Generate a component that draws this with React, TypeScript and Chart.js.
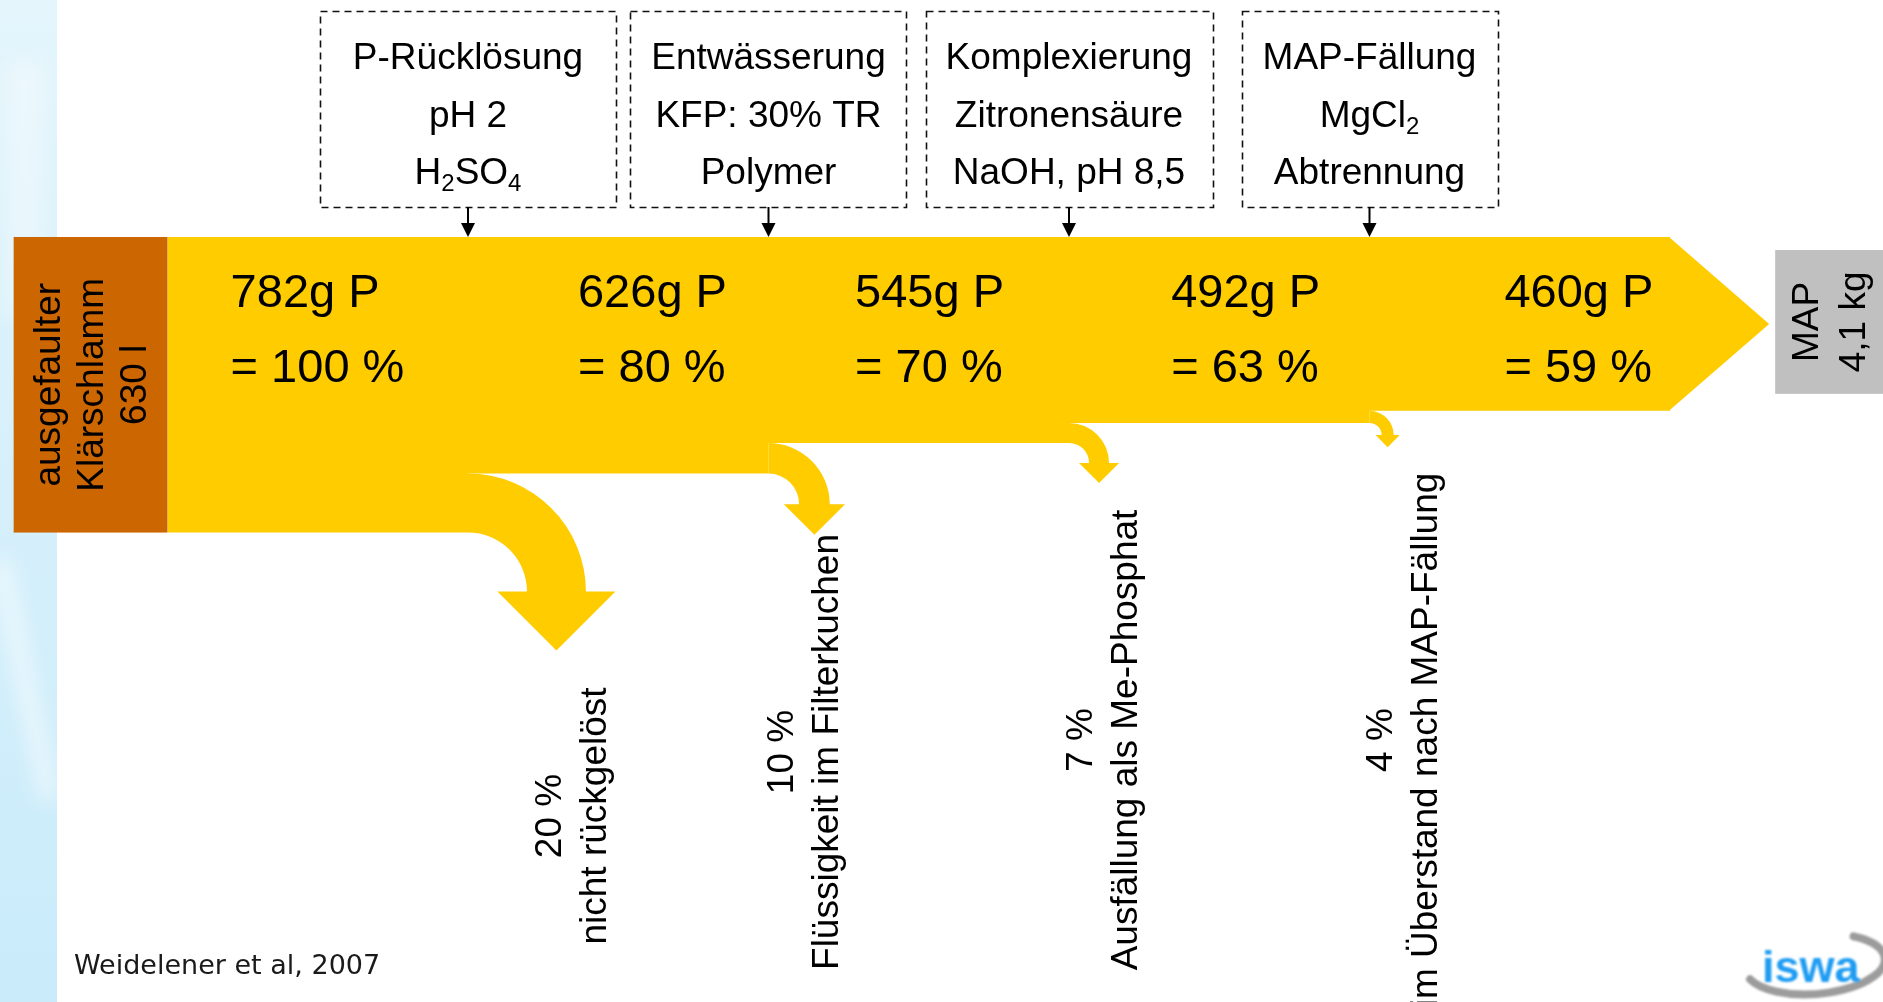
import React, { useEffect, useRef } from 'react';
import { Chart, registerables } from 'chart.js';

Chart.register(...registerables);

// Phosphorus carried through the recovery chain, grams P
const STAGE_P_GRAMS = [782, 626, 545, 492, 460];
const STAGE_SHARE_PCT = [100, 80, 70, 63, 59];
// Share lost at each process step
const LOSS_PCT = [20, 10, 7, 4];
const LOSS_NAMES = [
  'nicht rückgelöst',
  'Flüssigkeit im Filterkuchen',
  'Ausfällung als Me-Phosphat',
  'im Überstand nach MAP-Fällung',
];
// Process steps ("_" marks a subscript character)
const STEP_LINES = [
  ['P-Rücklösung', 'pH 2', 'H_2SO_4'],
  ['Entwässerung', 'KFP: 30% TR', 'Polymer'],
  ['Komplexierung', 'Zitronensäure', 'NaOH, pH 8,5'],
  ['MAP-Fällung', 'MgCl_2', 'Abtrennung'],
];
const INPUT_LINES = ['ausgefaulter', 'Klärschlamm', '630 l'];
const PRODUCT_LINES = ['MAP', '4,1 kg'];
const SOURCE_NOTE = 'Weidelener et al, 2007';

// ---- layout ----
const W = 1883;
const H = 1002;
// x axis: one unit per process step, first split at 0
const X_MIN = -1.5574;
const X_MAX = 4.7088;
// y axis: grams of P, pointing down, band top at 0
const Y_MIN = -627;
const Y_MAX = 2024;
const BAND_START = -1;
const INPUT_BOX_LEFT = -1.512;
const ARROW_BASE = 4;
const ARROW_TIP = 4.33;
const VALUE_LABEL_X = [-0.79, 0.366, 1.288, 2.34, 3.449];
const VALUE_BASELINES = [307, 382];
// loss captions: horizontal offset from their step (axis units) and vertical centre (px)
const LOSS_LABEL_DX = [0.35, 0.121, 0.116, 0.115];
const LOSS_LABEL_Y = [816, 752, 740, 740];
const BOX_TOP = 11;
const BOX_BOTTOM = 207;
const BOX_BASELINES = [69, 127, 184];
const BOX_PAD = [33, 21, 20, 21];

const YELLOW = '#FFCC00';
const ORANGE = '#CC6600';
const GREY = '#C0C0C0';
const SANS = '"Liberation Sans", Arial, sans-serif';

function parseRich(text: string) {
  const parts: { t: string; sub: boolean }[] = [];
  let i = 0;
  while (i < text.length) {
    if (text[i] === '_') {
      parts.push({ t: text[i + 1], sub: true });
      i += 2;
    } else {
      let j = i;
      while (j < text.length && text[j] !== '_') j++;
      parts.push({ t: text.slice(i, j), sub: false });
      i = j;
    }
  }
  return parts;
}

function richWidth(ctx: CanvasRenderingContext2D, text: string, size: number) {
  let w = 0;
  for (const p of parseRich(text)) {
    ctx.font = `${p.sub ? Math.round(size * 0.65) : size}px ${SANS}`;
    w += ctx.measureText(p.t).width;
  }
  return w;
}

function drawRich(ctx: CanvasRenderingContext2D, text: string, cx: number, baseline: number, size: number) {
  const total = richWidth(ctx, text, size);
  let x = cx - total / 2;
  ctx.textAlign = 'left';
  ctx.textBaseline = 'alphabetic';
  for (const p of parseRich(text)) {
    ctx.font = `${p.sub ? Math.round(size * 0.65) : size}px ${SANS}`;
    ctx.fillText(p.t, x, p.sub ? baseline + size * 0.2 : baseline);
    x += ctx.measureText(p.t).width;
  }
}

function drawRotatedLines(
  ctx: CanvasRenderingContext2D,
  lines: string[],
  cx: number,
  cy: number,
  size: number,
  spacing: number,
) {
  ctx.save();
  ctx.translate(cx, cy);
  ctx.rotate(-Math.PI / 2);
  ctx.font = `${size}px ${SANS}`;
  ctx.textAlign = 'center';
  ctx.textBaseline = 'middle';
  ctx.fillStyle = '#000';
  const off = ((lines.length - 1) * spacing) / 2;
  lines.forEach((l, k) => ctx.fillText(l, 0, k * spacing - off));
  ctx.restore();
}

const flowPlugin = {
  id: 'phosphorusFlow',
  beforeDraw(chart: any) {
    const ctx: CanvasRenderingContext2D = chart.ctx;
    ctx.save();
    ctx.fillStyle = '#fff';
    ctx.fillRect(0, 0, W, H);
    // pale blue side strip
    const g = ctx.createLinearGradient(0, 0, 0, H);
    g.addColorStop(0, '#e4f5fc');
    g.addColorStop(0.35, '#d9f1fb');
    g.addColorStop(0.6, '#d3effb');
    g.addColorStop(1, '#c9ebfa');
    ctx.fillStyle = g;
    ctx.fillRect(0, 0, 57, H);
    ctx.beginPath();
    ctx.rect(0, 0, 57, H);
    ctx.clip();
    ctx.filter = 'blur(10px)';
    ctx.fillStyle = 'rgba(255,255,255,0.55)';
    ctx.beginPath();
    ctx.moveTo(-10, 560);
    ctx.lineTo(10, 560);
    ctx.lineTo(60, 800);
    ctx.lineTo(40, 800);
    ctx.closePath();
    ctx.fill();
    ctx.fillStyle = 'rgba(255,255,255,0.35)';
    ctx.fillRect(5, 60, 40, 260);
    ctx.restore();
  },
  afterDatasetsDraw(chart: any) {
    const ctx: CanvasRenderingContext2D = chart.ctx;
    const xs = chart.scales.x;
    const ys = chart.scales.y;
    const px = (v: number) => xs.getPixelForValue(v);
    const py = (v: number) => ys.getPixelForValue(v);
    const last = STAGE_P_GRAMS[STAGE_P_GRAMS.length - 1];

    ctx.save();
    // input sludge box
    const ix0 = px(INPUT_BOX_LEFT);
    const ix1 = px(BAND_START);
    const iy0 = py(0);
    const iy1 = py(STAGE_P_GRAMS[0]);
    ctx.fillStyle = ORANGE;
    ctx.fillRect(ix0, iy0, ix1 - ix0, iy1 - iy0);
    drawRotatedLines(ctx, INPUT_LINES, (ix0 + ix1) / 2 + 2, (iy0 + iy1) / 2, 37, 43);

    // arrow head at the end of the main band
    ctx.fillStyle = YELLOW;
    ctx.beginPath();
    ctx.moveTo(px(ARROW_BASE) - 1, py(0));
    ctx.lineTo(px(ARROW_TIP), py(last / 2));
    ctx.lineTo(px(ARROW_BASE) - 1, py(last));
    ctx.closePath();
    ctx.fill();

    // branches leaving the band at every step
    for (let i = 0; i < LOSS_PCT.length; i++) {
      const sx = px(i);
      const yb = py(STAGE_P_GRAMS[i]);
      const ya = py(STAGE_P_GRAMS[i + 1]);
      const t = yb - ya;
      const cy = yb + t;
      ctx.fillStyle = YELLOW;
      ctx.beginPath();
      ctx.moveTo(sx, ya);
      ctx.arc(sx, cy, 2 * t, -Math.PI / 2, 0, false);
      ctx.lineTo(sx + 2.5 * t, cy);
      ctx.lineTo(sx + 1.5 * t, cy + t);
      ctx.lineTo(sx + 0.5 * t, cy);
      ctx.lineTo(sx + t, cy);
      ctx.arc(sx, cy, t, 0, -Math.PI / 2, true);
      ctx.closePath();
      ctx.fill();

      drawRotatedLines(ctx, [`${LOSS_PCT[i]} %`, LOSS_NAMES[i]], px(i + LOSS_LABEL_DX[i]), LOSS_LABEL_Y[i], 37, 45);
    }

    // stage values inside the band
    ctx.fillStyle = '#000';
    ctx.font = `47px ${SANS}`;
    ctx.textAlign = 'left';
    ctx.textBaseline = 'alphabetic';
    STAGE_P_GRAMS.forEach((g, i) => {
      const x = px(VALUE_LABEL_X[i]);
      ctx.fillText(`${g}g P`, x, VALUE_BASELINES[0]);
      ctx.fillText(`= ${STAGE_SHARE_PCT[i]} %`, x, VALUE_BASELINES[1]);
    });

    // process step boxes with arrows into the band
    STEP_LINES.forEach((lines, i) => {
      const cx = px(i);
      const wMax = Math.max(...lines.map((l) => richWidth(ctx, l, 37)));
      const bw = wMax + 2 * BOX_PAD[i];
      ctx.save();
      ctx.strokeStyle = '#111';
      ctx.lineWidth = 1.6;
      ctx.setLineDash([7, 5]);
      ctx.strokeRect(Math.round(cx - bw / 2) + 0.5, BOX_TOP + 0.5, Math.round(bw), BOX_BOTTOM - BOX_TOP);
      ctx.restore();
      ctx.fillStyle = '#000';
      lines.forEach((l, k) => drawRich(ctx, l, cx, BOX_BASELINES[k], 37));
      const top = py(0);
      ctx.strokeStyle = '#000';
      ctx.lineWidth = 2;
      ctx.beginPath();
      ctx.moveTo(cx, BOX_BOTTOM);
      ctx.lineTo(cx, top - 12);
      ctx.stroke();
      ctx.beginPath();
      ctx.moveTo(cx - 7, top - 14);
      ctx.lineTo(cx + 7, top - 14);
      ctx.lineTo(cx, top);
      ctx.closePath();
      ctx.fill();
    });

    // product box
    const gTop = py(0) + 13;
    const gBottom = py(last) - 17;
    const gx0 = px(ARROW_TIP) + 6;
    ctx.fillStyle = GREY;
    ctx.fillRect(gx0, gTop, W - gx0, gBottom - gTop);
    drawRotatedLines(ctx, PRODUCT_LINES, gx0 + 56, (gTop + gBottom) / 2, 37, 47);

    // source note
    ctx.fillStyle = '#1a1a1a';
    ctx.font = '27px "DejaVu Sans", Verdana, sans-serif';
    ctx.textAlign = 'left';
    ctx.textBaseline = 'alphabetic';
    ctx.fillText(SOURCE_NOTE, 74, 974);

    // iswa logo
    ctx.save();
    ctx.filter = 'blur(0.8px)';
    ctx.strokeStyle = '#9c9c9c';
    ctx.lineWidth = 8;
    ctx.lineCap = 'round';
    ctx.beginPath();
    ctx.ellipse(1815, 964, 70, 30, -0.08, -0.95, 2.8, false);
    ctx.stroke();
    ctx.fillStyle = '#1e9cf2';
    ctx.font = `bold 45px ${SANS}`;
    ctx.textAlign = 'left';
    ctx.fillText('iswa', 1762, 982);
    ctx.restore();

    ctx.restore();
  },
};

export default function App() {
  const ref = useRef<HTMLCanvasElement>(null);
  useEffect(() => {
    const canvas = ref.current;
    if (!canvas) return;
    const bandPoints = STAGE_P_GRAMS.map((g, i) => ({ x: BAND_START + i, y: g }));
    bandPoints.push({ x: ARROW_BASE, y: STAGE_P_GRAMS[STAGE_P_GRAMS.length - 1] });
    const chart = new Chart(canvas, {
      type: 'line',
      data: {
        datasets: [
          {
            data: bandPoints,
            stepped: true,
            fill: { value: 0 },
            backgroundColor: YELLOW,
            borderColor: 'rgba(0,0,0,0)',
            borderWidth: 0,
            pointRadius: 0,
            clip: false,
          } as any,
        ],
      },
      options: {
        responsive: false,
        animation: false,
        devicePixelRatio: 1,
        events: [],
        layout: { padding: 0 },
        plugins: { legend: { display: false }, tooltip: { enabled: false } },
        scales: {
          x: { type: 'linear', min: X_MIN, max: X_MAX, display: false },
          y: { type: 'linear', min: Y_MIN, max: Y_MAX, reverse: true, display: false },
        },
      },
      plugins: [flowPlugin],
    });
    return () => chart.destroy();
  }, []);
  return (
    <div style={{ position: 'absolute', left: 0, top: 0, width: W, height: H, overflow: 'hidden' }}>
      <canvas ref={ref} width={W} height={H} style={{ display: 'block', width: W, height: H }} />
    </div>
  );
}
